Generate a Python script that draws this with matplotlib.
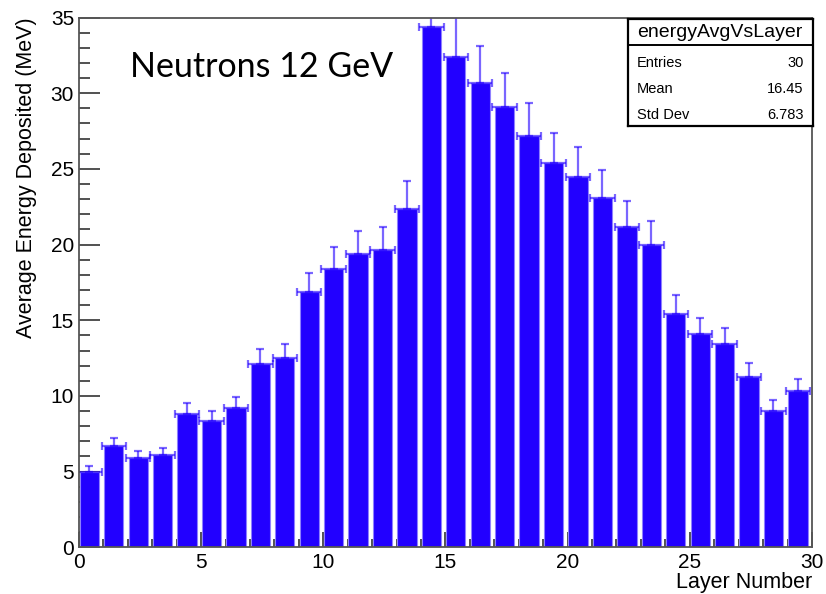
import numpy as np
import matplotlib
matplotlib.use('Agg')
from matplotlib import pyplot as plt
from matplotlib.ticker import MultipleLocator

# Average energy per layer and its error
layers = np.arange(30)
energy = [4.95, 6.71, 5.87, 6.11, 8.78, 8.32, 9.22, 12.14, 12.49, 16.84,
          18.38, 19.38, 19.67, 22.34, 34.39, 32.42, 30.66, 29.07, 27.17, 25.40,
          24.48, 23.05, 21.13, 19.97, 15.40, 14.06, 13.44, 11.28, 8.98, 10.30]
errors = [0.45, 0.53, 0.46, 0.42, 0.73, 0.66, 0.69, 0.95, 0.97, 1.28,
          1.44, 1.50, 1.52, 1.85, 2.60, 2.60, 2.49, 2.25, 2.19, 1.97,
          1.98, 1.87, 1.74, 1.59, 1.28, 1.10, 1.04, 0.91, 0.77, 0.80]
stats_names = ['Entries', 'Mean', 'Std Dev']
stats_values = ['30', '16.45', '6.783']

plt.rcParams['font.family'] = ['Liberation Sans', 'DejaVu Sans']
blue = '#2200ff'

fig = plt.figure(figsize=(8.26, 5.94), dpi=100)
ax = fig.add_axes([0.0956, 0.0786, 0.8874, 0.8919])

ax.bar(layers + 0.03, energy, width=0.79, align='edge', color=blue,
       edgecolor='#8f80ff', linewidth=0.8, zorder=2)
centers = layers + 0.425
ax.errorbar(centers, energy, xerr=0.5, yerr=[np.zeros(30), errors],
            fmt='none', ecolor=blue, alpha=0.6, elinewidth=1.6,
            capsize=3, capthick=1.6, zorder=3)

ax.set_xlim(0, 30)
ax.set_ylim(0, 35)
ax.xaxis.set_major_locator(MultipleLocator(5))
ax.xaxis.set_minor_locator(MultipleLocator(1))
ax.yaxis.set_major_locator(MultipleLocator(5))
ax.yaxis.set_minor_locator(MultipleLocator(1))
ax.tick_params(which='both', direction='in', top=False, right=False,
               labelsize=15, width=1.1, color='#222222')
ax.tick_params(axis='y', which='major', length=15)
ax.tick_params(axis='y', which='minor', length=8)
ax.tick_params(axis='x', which='major', length=11)
ax.tick_params(axis='x', which='minor', length=6)
ax.tick_params(axis='x', pad=4)
for s in ax.spines.values():
    s.set_color('#555555')
    s.set_linewidth(1.3)
    s.set_zorder(4)

ax.set_xlabel('Layer Number', fontsize=15.5, loc='right', labelpad=0)
ax.set_ylabel('Average Energy Deposited (MeV)', fontsize=15.5, loc='top', labelpad=10)

fig.text(0.157, 0.87, 'Neutrons 12 GeV', fontsize=24.5, family='Lato',
         va='baseline', ha='left')

# Stats box
box = fig.add_axes([0.760, 0.788, 0.224, 0.180])
box.set_xlim(0, 1)
box.set_ylim(0, 1)
box.set_xticks([])
box.set_yticks([])
for s in box.spines.values():
    s.set_linewidth(1.6)
    s.set_color('black')
box.axhline(0.755, color='black', lw=1.4)
box.text(0.5, 0.875, 'energyAvgVsLayer', ha='center', va='center', fontsize=14)
for k, (n, v) in enumerate(zip(stats_names, stats_values)):
    y = 0.59 - k * 0.245
    box.text(0.05, y, n, ha='left', va='center', fontsize=10.5)
    box.text(0.95, y, v, ha='right', va='center', fontsize=10.5)

fig.savefig('out.png', dpi=100)
